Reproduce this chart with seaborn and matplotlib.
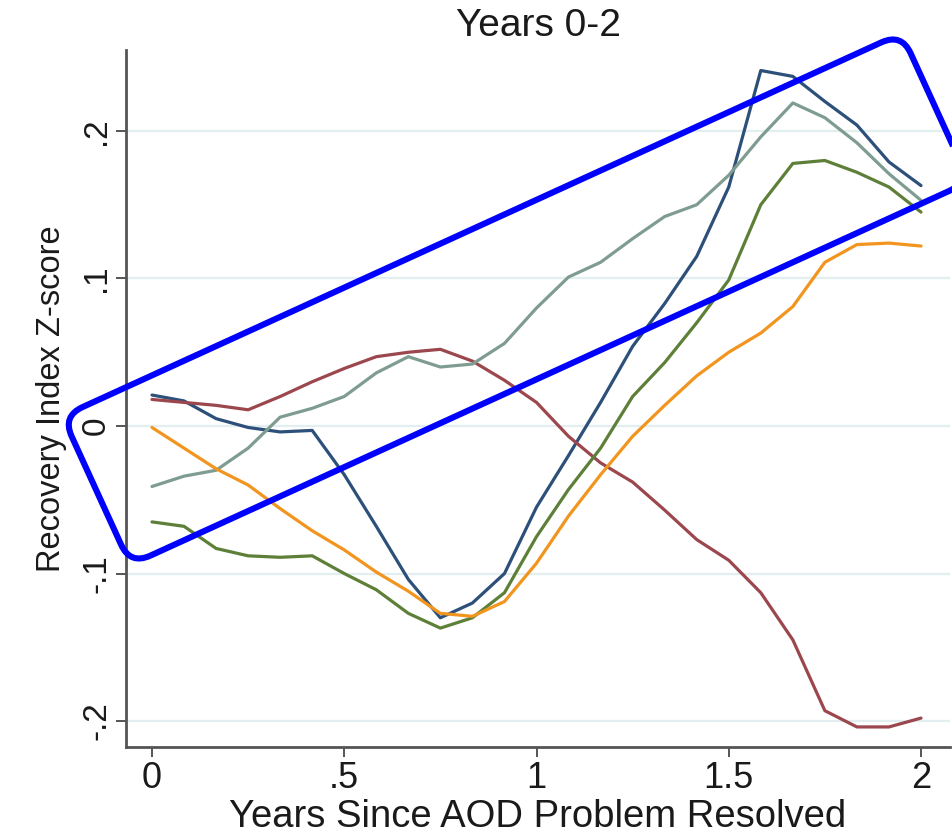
import matplotlib
matplotlib.use("Agg")
import numpy as np
import pandas as pd
import seaborn as sns
import matplotlib.pyplot as plt
from matplotlib.patches import FancyBboxPatch
from matplotlib.transforms import Affine2D

# ---------------- data ----------------
years = [0.0, 0.0833, 0.1667, 0.25, 0.3333, 0.4167, 0.5, 0.5833, 0.6667, 0.75,
         0.8333, 0.9167, 1.0, 1.0833, 1.1667, 1.25, 1.3333, 1.4167, 1.5, 1.5833,
         1.6667, 1.75, 1.8333, 1.9167, 2.0]

navy_vals = [0.021, 0.017, 0.005, -0.001, -0.004, -0.003, -0.033, -0.068, -0.104, -0.130,
             -0.120, -0.100, -0.055, -0.020, 0.016, 0.054, 0.083, 0.115, 0.162, 0.241,
             0.237, 0.220, 0.204, 0.179, 0.163]
maroon_vals = [0.018, 0.016, 0.014, 0.011, 0.020, 0.030, 0.039, 0.047, 0.050, 0.052,
               0.044, 0.031, 0.016, -0.007, -0.025, -0.038, -0.057, -0.077, -0.091, -0.113,
               -0.145, -0.193, -0.204, -0.204, -0.198]
sage_vals = [-0.041, -0.034, -0.030, -0.015, 0.006, 0.012, 0.020, 0.036, 0.047, 0.040,
             0.042, 0.056, 0.080, 0.101, 0.111, 0.127, 0.142, 0.150, 0.170, 0.196,
             0.219, 0.209, 0.192, 0.171, 0.153]
green_vals = [-0.065, -0.068, -0.083, -0.088, -0.089, -0.088, -0.100, -0.111, -0.127, -0.137,
              -0.130, -0.113, -0.075, -0.043, -0.015, 0.020, 0.043, 0.070, 0.099, 0.150,
              0.178, 0.180, 0.172, 0.162, 0.145]
orange_vals = [-0.001, -0.015, -0.029, -0.040, -0.056, -0.071, -0.084, -0.099, -0.112, -0.127,
               -0.129, -0.119, -0.093, -0.061, -0.033, -0.007, 0.014, 0.034, 0.050, 0.063,
               0.081, 0.111, 0.123, 0.124, 0.122]

series_names = ["navy", "maroon", "sage", "green", "orange"]
series_colors = ["#2c5079", "#9b474d", "#7f9c90", "#5d7f38", "#f2951f"]

x_ticks = [0, 0.5, 1, 1.5, 2]
x_tick_labels = ["0", ".5", "1", "1.5", "2"]
y_ticks = [-0.2, -0.1, 0, 0.1, 0.2]
y_tick_labels = ["-.2", "-.1", "0", ".1", ".2"]

title_text = "Years 0-2"
x_label = "Years Since AOD Problem Resolved"
y_label = "Recovery Index Z-score"

# ---------------- build long table ----------------
all_vals = [navy_vals, maroon_vals, sage_vals, green_vals, orange_vals]
df = pd.concat(
    [pd.DataFrame({"years": years, "z": v, "series": n}) for n, v in zip(series_names, all_vals)],
    ignore_index=True,
)

sns.set_theme(style="white")
plt.rcParams["font.family"] = ["Liberation Sans", "DejaVu Sans"]

W, H = 953, 839
fig = plt.figure(figsize=(W / 100, H / 100), dpi=100)
ax = fig.add_axes([126 / W, (H - 747) / H, 824 / W, 697 / H])

ax.yaxis.grid(True, color="#e3eef0", lw=1.6)
ax.xaxis.grid(False)
ax.set_axisbelow(True)

sns.lineplot(data=df, x="years", y="z", hue="series", hue_order=series_names,
             palette=dict(zip(series_names, series_colors)), lw=2.3,
             legend=False, ax=ax, estimator=None, sort=False)

ax.set_xlim(-0.0676, 2.0754)
ax.set_ylim(-0.2176, 0.2549)

for s in ["top", "right"]:
    ax.spines[s].set_visible(False)
for s in ["left", "bottom"]:
    ax.spines[s].set_color("#555555")
    ax.spines[s].set_linewidth(2.0)

ax.set_xticks(x_ticks)
ax.set_xticklabels(x_tick_labels, fontsize=26)
ax.set_yticks(y_ticks)
ax.set_yticklabels(y_tick_labels, fontsize=24, rotation=90, va="center")
ax.tick_params(axis="both", direction="out", length=7, width=1.4, color="#555555",
               labelcolor="#1a1a1a", pad=3, left=True, bottom=True)

ax.set_xlabel(x_label, fontsize=27.5, color="#1a1a1a", labelpad=2)
ax.set_ylabel(y_label, fontsize=23.5, color="#1a1a1a", labelpad=10)
ax.set_title(title_text, fontsize=28, color="#1a1a1a", pad=10)

# ---------------- blue rounded annotation box ----------------
blx, bly = 130.3, H - 564.8
box = FancyBboxPatch((blx, bly), 922.3, 163.3,
                     boxstyle="round,pad=0,rounding_size=22",
                     transform=Affine2D().rotate_deg_around(blx, bly, 24.54),
                     fill=False, ec="#0000ff", lw=4.4, clip_on=False, zorder=10)
fig.add_artist(box)

fig.savefig("out.png", dpi=100)
